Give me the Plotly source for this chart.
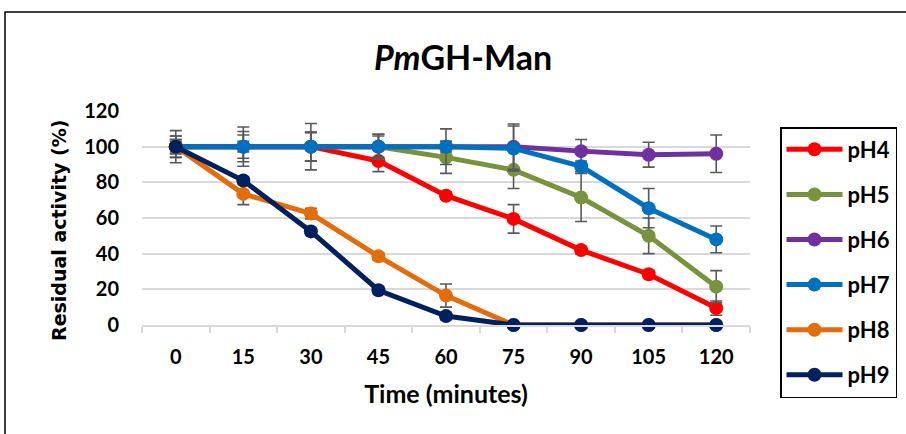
import plotly.graph_objects as go

# ---- data ----
time_labels = ["0", "15", "30", "45", "60", "75", "90", "105", "120"]
series_names = ["pH4", "pH5", "pH6", "pH7", "pH8", "pH9"]

ph4 = [100, 100, 100, 92, 72.5, 59.5, 42, 28.5, 9.5]
ph5 = [100, 100, 100, 100, 94, 87, 71.5, 50, 21.5]
ph6 = [100, 100, 100, 100, 100, 100, 97.5, 95.5, 96]
ph7 = [100, 100, 100, 100, 100, 99, 89, 65.5, 48]
ph8 = [100, 73.5, 62.5, 38.5, 16.5, 0, 0, 0, 0]
ph9 = [100, 81, 52.5, 19.5, 5, 0, 0, 0, 0]

err4 = [6, 3, 8, 6, 2, 8, 2, 2, 4]
err5 = [6, 6.5, 8, 7, 9, 10.5, 13.5, 10, 9]
err6 = [9, 11, 13, 6, 10, 12.7, 6.5, 7, 10.5]
err7 = [4, 8.5, 8, 7, 3, 12.6, 3, 11, 7.5]
err8 = [4, 6, 3, 2, 6.5, 0, 0, 0, 0]
err9 = [3, 2, 2, 2, 2, 0, 0, 0, 0]

values = [ph4, ph5, ph6, ph7, ph8, ph9]
errors = [err4, err5, err6, err7, err8, err9]
colors = ["#FF0000", "#77933C", "#7030A0", "#0070C0", "#E46C0A", "#002060"]

y_ticks = [0, 20, 40, 60, 80, 100, 120]

fig = go.Figure()
for name, vals, errs, col in zip(series_names, values, errors, colors):
    fig.add_trace(go.Scatter(
        x=time_labels, y=vals, name=name, legendgroup=name,
        mode="lines+markers",
        line=dict(color=col, width=5),
        marker=dict(color=col, size=14),
        error_y=dict(type="data", array=errs, visible=True,
                     color="#595959", thickness=1.6, width=6),
        cliponaxis=False,
    ))

W, H = 906, 434
L, R, T, B = 142, 156, 111, 109
pw, ph = W - L - R, H - T - B

fig.update_layout(
    width=W, height=H,
    margin=dict(l=L, r=R, t=T, b=B),
    paper_bgcolor="white", plot_bgcolor="white",
    title=dict(text="<b><i>Pm</i>GH-Man</b>", x=463 / W, xanchor="center",
               y=1 - 58 / H, yanchor="middle",
               font=dict(family="Lato", size=34, color="black")),
    xaxis=dict(
        type="category", tickson="boundaries", ticks="outside", ticklen=6,
        tickcolor="#D9D9D9", tickwidth=1.5,
        showline=True, linecolor="#D9D9D9", linewidth=1.5,
        showgrid=False, range=[-0.5, 8.5],
        tickfont=dict(family="Lato", size=20, color="black", weight="bold"),
        ticklabelstandoff=13,
        title=dict(text="<b>Time (minutes)</b>", standoff=19,
                   font=dict(family="Lato", size=25, color="black")),
    ),
    yaxis=dict(
        range=[0, 120], tickvals=y_ticks, showgrid=True, gridcolor="#D9D9D9",
        gridwidth=1.5, zeroline=True, zerolinecolor="#D9D9D9", zerolinewidth=1.5,
        tickfont=dict(family="Lato", size=20, color="black", weight="bold"),
        ticklabelstandoff=22,
    ),
    legend=dict(
        xref="container", yref="container",
        x=780 / W, xanchor="left", y=1 - 127 / H, yanchor="top",
        bordercolor="black", borderwidth=1.5, bgcolor="white",
        font=dict(family="Lato", size=22, color="black", weight="bold"),
        traceorder="grouped", tracegroupgap=13.5, itemwidth=56,
        maxheight=1,
    ),
    showlegend=True,
)

# y-axis title (placed as annotation to match the reference's offset)
fig.add_annotation(
    text="<b>Residual activity (%)</b>", textangle=-90,
    xref="paper", yref="paper",
    x=(59 - L) / pw, y=(H - B - 231) / ph, xanchor="center", yanchor="middle",
    showarrow=False, font=dict(family="DejaVu Sans", size=19, color="black"),
)

# outer chart frame
fig.add_shape(type="rect", xref="paper", yref="paper",
              x0=(5 - L) / pw, x1=(W + 20 - L) / pw,
              y0=(H - B - (H + 20)) / ph, y1=(H - B - 12) / ph,
              line=dict(color="black", width=1.5), layer="below")

fig.write_html("out.html")
